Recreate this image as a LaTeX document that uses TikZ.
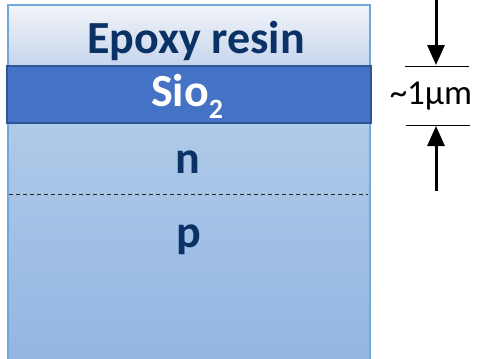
\documentclass[tikz,border=0pt]{standalone}
\usepackage{fontspec}
\setmainfont{Carlito}
\usetikzlibrary{arrows.meta}
\definecolor{epoxytop}{HTML}{F2F4F9}
\definecolor{epoxybot}{HTML}{C6D5EC}
\definecolor{oxide}{HTML}{4472C4}
\definecolor{oxideedge}{HTML}{2F5597}
\definecolor{bodytop}{HTML}{AFC9E8}
\definecolor{bodybot}{HTML}{92B6E2}
\definecolor{frame}{HTML}{6FA8DC}
\definecolor{labelblue}{HTML}{0A3266}
\tikzset{
  biglabel/.style={font=\bfseries\fontsize{46}{46}\selectfont, inner sep=0pt, anchor=base},
  dimtick/.style={line width=1pt, black},
  dimarrow/.style={line width=3pt, black, -{Triangle[length=20pt,width=17pt]}},
}
\begin{document}
\begin{tikzpicture}[x=1pt,y=-1pt]
\useasboundingbox (0,0) rectangle (477,359);
% silicon body
\shade[top color=bodytop, bottom color=bodybot] (8,123) rectangle (370,362);
% epoxy
\shade[top color=epoxytop, bottom color=epoxybot] (8,5) rectangle (370,66);
\draw[frame, line width=1.2pt] (8,362) -- (8,5) -- (370,5) -- (370,362);
% oxide
\draw[fill=oxide, draw=oxideedge, line width=1.5pt] (7,66) rectangle (371,123);
% junction
\coordinate (jl) at (9,194);
\coordinate (jr) at (368,194);
\draw[black!85, line width=1pt, dash pattern=on 4pt off 3pt] (jl) -- (jr);
% labels
\node[biglabel, text=labelblue] (epoxy) at (196,53) {Epoxy resin};
\node[biglabel, text=white] (sio) at (187,106) {Sio\raisebox{-12pt}{\fontsize{28}{28}\selectfont 2}};
\node[biglabel, text=labelblue] (n) at (188,173) {n};
\node[biglabel, text=labelblue] (p) at (189,247) {p};
% dimension
\coordinate (t1) at (405,66);
\coordinate (t2) at (469,66);
\coordinate (b1) at (406,125);
\coordinate (b2) at (470,125);
\coordinate (topstart) at (436,0);
\coordinate (toptip) at (436,65);
\coordinate (botstart) at (436,191);
\coordinate (bottip) at (436,126);
\draw[dimtick] (t1) -- (t2);
\draw[dimtick] (b1) -- (b2);
\draw[dimarrow] (topstart) -- (toptip);
\draw[dimarrow] (botstart) -- (bottip);
\node[font=\fontsize{35}{35}\selectfont, inner sep=0pt, anchor=base] (dim) at (431,104) {\char"007E 1μm};
\end{tikzpicture}
\end{document}
